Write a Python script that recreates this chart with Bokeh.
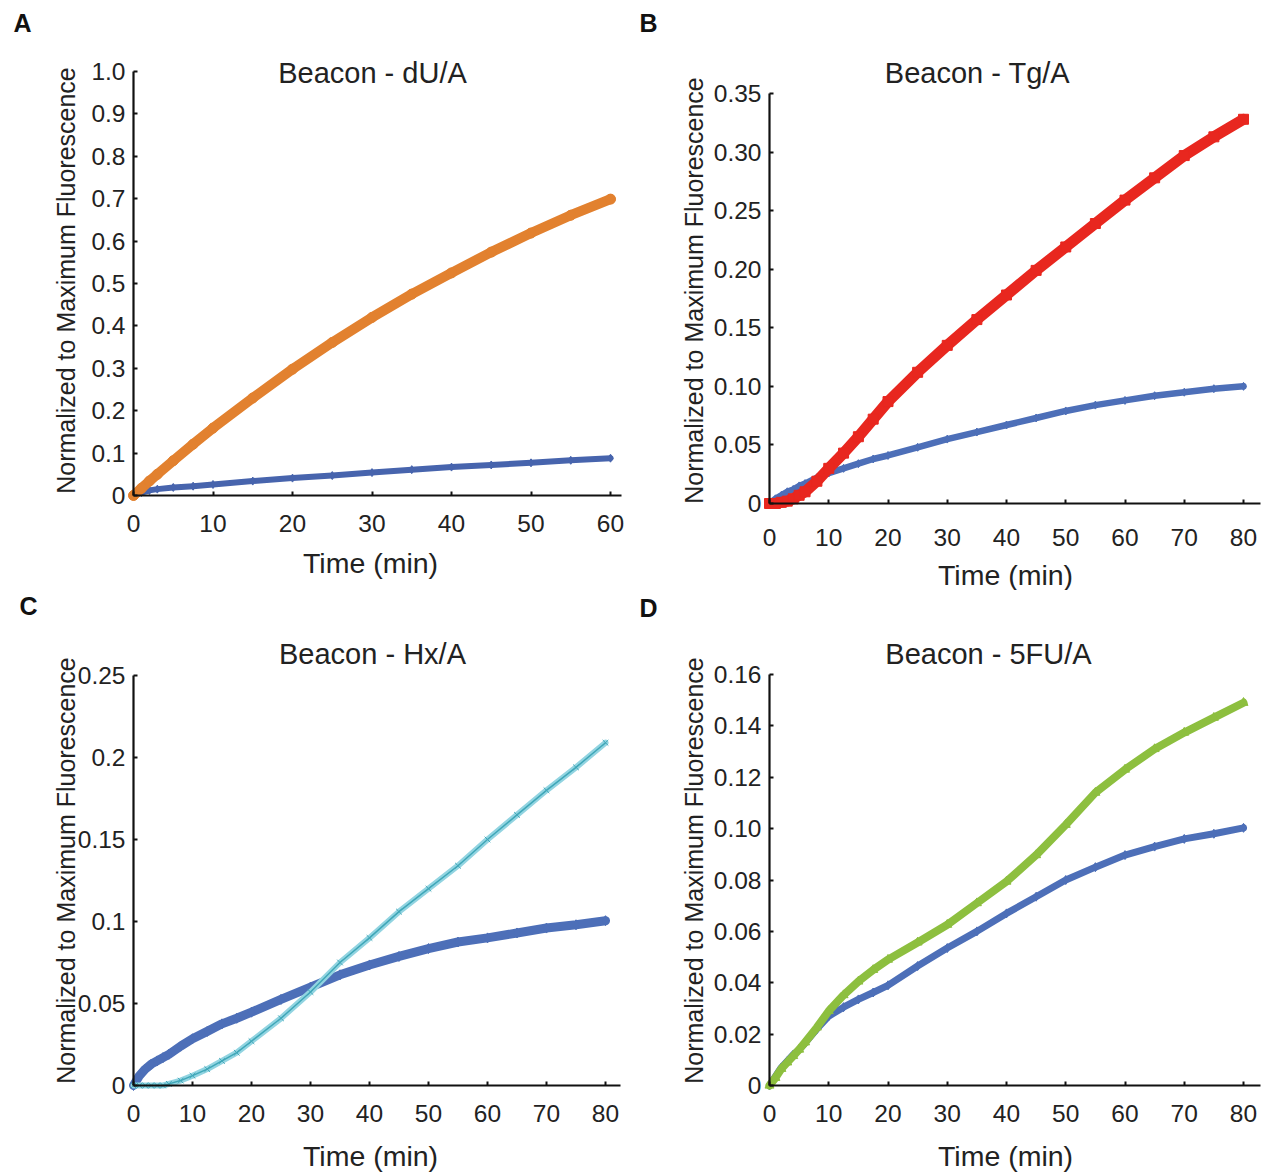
import math
from bokeh.plotting import figure
from bokeh.models import Label, FixedTicker, Range1d, LinearAxis
from bokeh.layouts import column, row
from bokeh.embed import file_html
from bokeh.resources import INLINE

FONT = "Liberation Sans"

# ---------------- data ----------------
# Panel A: Beacon - dU/A
time_a = [0, 1, 2, 3, 5, 7.5, 10, 15, 20, 25, 30, 35, 40, 45, 50, 55, 60]
du_a = [0, 0.017, 0.034, 0.050, 0.082, 0.121, 0.159, 0.230, 0.298, 0.361,
        0.420, 0.475, 0.525, 0.574, 0.619, 0.661, 0.699]
beacon_a = [0, 0.007, 0.012, 0.015, 0.019, 0.022, 0.026, 0.034, 0.041, 0.047,
            0.054, 0.061, 0.067, 0.072, 0.077, 0.083, 0.088]

# Panels B-D share the same time grid
time_bcd = [0, 1, 2, 3, 4, 5, 6, 8, 10, 12.5, 15, 17.5, 20, 25, 30, 35, 40,
            45, 50, 55, 60, 65, 70, 75, 80]

# Panel B: Beacon - Tg/A
tg_b = [0, 0, 0.001, 0.002, 0.004, 0.007, 0.010, 0.019, 0.030, 0.043, 0.057,
        0.072, 0.087, 0.112, 0.135, 0.157, 0.178, 0.199, 0.219, 0.239, 0.259,
        0.278, 0.297, 0.313, 0.328]
beacon_b = [0, 0.004, 0.007, 0.010, 0.012, 0.015, 0.017, 0.022, 0.026, 0.030, 0.034,
            0.038, 0.041, 0.048, 0.055, 0.061, 0.067, 0.073, 0.079, 0.084, 0.088,
            0.092, 0.095, 0.098, 0.100]

# Panel C: Beacon - Hx/A
hx_c = [0, 0, 0, 0, 0, 0, 0.001, 0.003, 0.006, 0.010, 0.015, 0.020, 0.027, 0.041,
        0.057, 0.075, 0.090, 0.106, 0.120, 0.134, 0.150, 0.165, 0.180, 0.194, 0.209]
beacon_c = [0, 0.006, 0.010, 0.013, 0.015, 0.017, 0.019, 0.024, 0.0285, 0.033, 0.0376,
            0.041, 0.0447, 0.0525, 0.060, 0.0675, 0.0735, 0.0787, 0.0835, 0.0875, 0.090,
            0.093, 0.096, 0.098, 0.1005]

# Panel D: Beacon - 5FU/A
fu_d = [0, 0.003, 0.0065, 0.009, 0.0115, 0.014, 0.0168, 0.0226, 0.029, 0.0352, 0.0405,
        0.045, 0.049, 0.0557, 0.0626, 0.071, 0.0794, 0.0897, 0.1015, 0.114, 0.123,
        0.131, 0.1374, 0.1432, 0.149]
beacon_d = [0, 0.0035, 0.007, 0.0095, 0.012, 0.014, 0.0165, 0.022, 0.027, 0.0305, 0.0335,
            0.0362, 0.039, 0.0465, 0.0535, 0.060, 0.067, 0.0735, 0.080, 0.085, 0.0897,
            0.093, 0.096, 0.098, 0.1003]

# tick values / labels
xticks_a = [0, 10, 20, 30, 40, 50, 60]
xticks_bcd = [0, 10, 20, 30, 40, 50, 60, 70, 80]
yticks_a = [0, 0.1, 0.2, 0.3, 0.4, 0.5, 0.6, 0.7, 0.8, 0.9, 1.0]
ylabels_a = ["0", "0.1", "0.2", "0.3", "0.4", "0.5", "0.6", "0.7", "0.8", "0.9", "1.0"]
yticks_b = [0, 0.05, 0.10, 0.15, 0.20, 0.25, 0.30, 0.35]
ylabels_b = ["0", "0.05", "0.10", "0.15", "0.20", "0.25", "0.30", "0.35"]
yticks_c = [0, 0.05, 0.1, 0.15, 0.2, 0.25]
ylabels_c = ["0", "0.05", "0.1", "0.15", "0.2", "0.25"]
yticks_d = [0, 0.02, 0.04, 0.06, 0.08, 0.10, 0.12, 0.14, 0.16]
ylabels_d = ["0", "0.02", "0.04", "0.06", "0.08", "0.10", "0.12", "0.14", "0.16"]

titles = ["Beacon - dU/A", "Beacon - Tg/A", "Beacon - Hx/A", "Beacon - 5FU/A"]
letters = ["A", "B", "C", "D"]
XLABEL = "Time (min)"
YLABEL = "Normalized to Maximum Fluorescence"

BLUE = "#4d6fb8"
BLUE_DARK = "#4764ad"
ORANGE = "#e2812f"
RED = "#e8271f"
CYAN = "#92d4e1"
CYAN_DARK = "#3fa7b8"
GREEN = "#8dbf3f"


def make_panel(W, H, origin, px_per_x, px_per_y, x_axis_end, y_axis_end,
               xt, yt, ylabels, xtick_standoff,
               title, title_px, letter, letter_px, ylab_px, xlab_px):
    """origin / *_px are figure-local pixel positions measured from the top-left."""
    ox, oy = origin
    xr = Range1d(-ox / px_per_x, (W - ox) / px_per_x)
    yr = Range1d(-(H - oy) / px_per_y, oy / px_per_y)
    p = figure(width=W, height=H, x_range=xr, y_range=yr,
               x_axis_type=None, y_axis_type=None, title_location=None,
               min_border=0, min_border_left=0, min_border_right=0,
               min_border_top=0, min_border_bottom=0,
               output_backend="svg", toolbar_location=None,
               background_fill_color="white", border_fill_color="white")
    p.outline_line_color = None
    p.grid.visible = False

    xax = LinearAxis(fixed_location=0, bounds=(0, x_axis_end), ticker=FixedTicker(ticks=xt))
    yax = LinearAxis(fixed_location=0, bounds=(0, y_axis_end), ticker=FixedTicker(ticks=yt))
    for ax in (xax, yax):
        ax.axis_line_width = 2.2
        ax.axis_line_color = "#111111"
        ax.major_tick_line_color = "#111111"
        ax.major_tick_line_width = 2
        ax.major_tick_in = 4
        ax.major_tick_out = 0
        ax.minor_tick_line_color = None
        ax.major_label_text_font = FONT
        ax.major_label_text_font_size = "24.5px"
        ax.major_label_text_color = "#222222"
    xax.major_label_standoff = xtick_standoff
    yax.major_label_standoff = 8
    yax.major_label_overrides = {v: s for v, s in zip(yt, ylabels)}
    p.add_layout(xax, "below")
    p.add_layout(yax, "left")

    def lab(pos, text, size, **kw):
        p.add_layout(Label(x=pos[0], y=H - pos[1], x_units="screen", y_units="screen",
                           text=text, text_font=FONT, text_font_size=size,
                           text_align="center", text_baseline="middle", **kw))

    lab(title_px, title, "29px", text_color="#222222")
    lab(letter_px, letter, "25px", text_color="#111111", text_font_style="bold")
    lab(ylab_px, YLABEL, "25px", text_color="#222222", angle=math.pi / 2)
    lab(xlab_px, XLABEL, "28.5px", text_color="#222222")
    return p


# ---------------- Panel A ----------------
pA = make_panel(631, 590, (133, 495), (610 - 133) / 60, (495 - 71) / 1.0, 61.38, 1.0,
                xticks_a, yticks_a, ylabels_a, 19,
                titles[0], (372, 72), letters[0], (22, 22), (65, 280), (370, 562))
pA.line(time_a, beacon_a, line_color=BLUE_DARK, line_width=6, line_cap="round", line_join="round")
pA.scatter(time_a, beacon_a, marker="diamond", size=8, color=BLUE_DARK)
pA.line(time_a, du_a, line_color=ORANGE, line_width=10, line_cap="round", line_join="round")
pA.scatter(time_a, du_a, marker="circle", size=10, color=ORANGE)

# ---------------- Panel B ----------------
pB = make_panel(631, 590, (138, 503), (1243 - 769) / 80, (503 - 93) / 0.35, 82.9, 0.35,
                xticks_bcd, yticks_b, ylabels_b, 25,
                titles[1], (346, 72), letters[1], (17, 22), (62, 290), (374, 574))
pB.line(time_bcd, beacon_b, line_color=BLUE, line_width=6.5, line_cap="round", line_join="round")
pB.scatter(time_bcd, beacon_b, marker="diamond", size=8, color=BLUE)
pB.line(time_bcd, tg_b, line_color=RED, line_width=11, line_cap="round", line_join="round")
pB.scatter(time_bcd, tg_b, marker="square", size=10, color=RED)

# ---------------- Panel C ----------------
pC = make_panel(631, 582, (133, 495), (605 - 133) / 80, (1085 - 675) / 0.25, 82.5, 0.25,
                xticks_bcd, yticks_c, ylabels_c, 19,
                titles[2], (372, 63), letters[2], (28, 15), (65, 280), (370, 565))
pC.line(time_bcd, beacon_c, line_color=BLUE, line_width=9, line_cap="round", line_join="round")
pC.scatter(time_bcd, beacon_c, marker="diamond", size=10, color=BLUE)
pC.line(time_bcd, hx_c, line_color=CYAN, line_width=6, line_cap="round", line_join="round")
pC.line(time_bcd, hx_c, line_color=CYAN_DARK, line_width=1.5)
pC.scatter(time_bcd, hx_c, marker="x", size=8, line_color=CYAN_DARK, line_width=1)

# ---------------- Panel D ----------------
pD = make_panel(631, 582, (138, 495), (1243 - 769) / 80, (1085 - 674) / 0.16, 82.9, 0.16,
                xticks_bcd, yticks_d, ylabels_d, 19,
                titles[3], (357, 63), letters[3], (17, 17), (62, 280), (374, 565))
pD.line(time_bcd, beacon_d, line_color=BLUE, line_width=7, line_cap="round", line_join="round")
pD.scatter(time_bcd, beacon_d, marker="diamond", size=9, color=BLUE)
pD.line(time_bcd, fu_d, line_color=GREEN, line_width=8, line_cap="round", line_join="round")
pD.scatter(time_bcd, fu_d, marker="triangle", size=9, color=GREEN)

layout = column(row(pA, pB), row(pC, pD))
open("out.html", "w").write(file_html(layout, INLINE))
